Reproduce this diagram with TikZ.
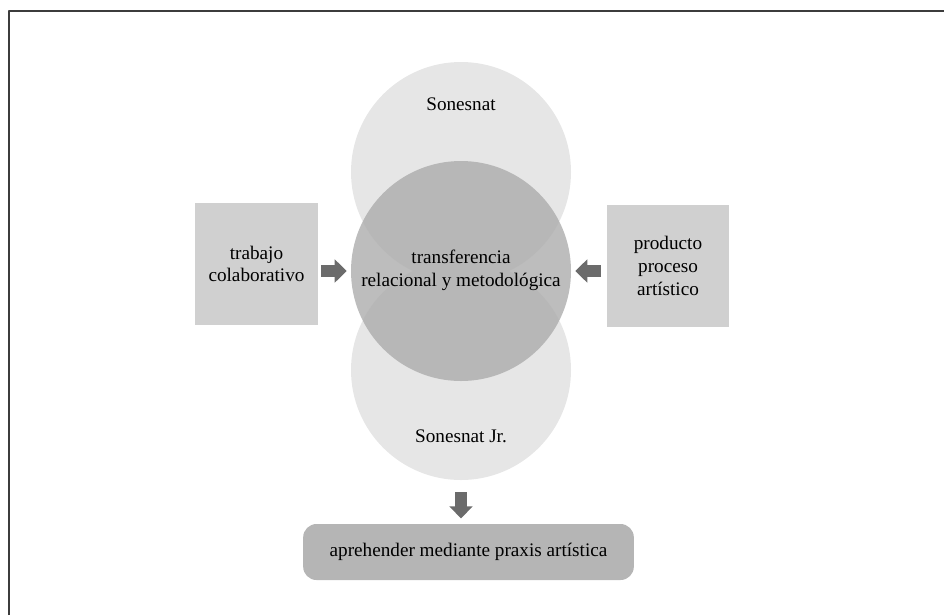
\documentclass[tikz,border=0pt]{standalone}
\usepackage{fontspec}
\setmainfont{Liberation Serif}
\usetikzlibrary{arrows.meta}
\definecolor{circclaro}{HTML}{E6E6E6}
\definecolor{circmedio}{HTML}{ACACAC}
\definecolor{cajagris}{HTML}{D0D0D0}
\definecolor{cajaoscura}{HTML}{B5B5B5}
\definecolor{flechagris}{HTML}{6B6B6B}
\definecolor{marco}{HTML}{3C3C3C}
\begin{document}
\begin{tikzpicture}[x=0.75pt, y=-0.75pt, font=\fontsize{14.4}{17}\selectfont, line join=round,
		circulo/.style={circle, minimum size=165pt, inner sep=0pt},
		caja/.style={fill=cajagris, minimum width=92pt, minimum height=91.5pt, align=center, inner sep=0pt},
		flecha/.style={draw=flechagris, line width=9pt, -{Triangle[width=17pt,length=9pt]}}]
		\useasboundingbox (0,0) rectangle (944,615);
		\draw[marco, line width=1.2pt] (9,615) -- (9,11) -- (944,11);
		% circulos
		\node[circulo, fill=circclaro] (son) at (461,172) {};
		\node[circulo, fill=circclaro] (jr) at (461,370) {};
		\node[circulo, fill=circmedio, fill opacity=0.8] (tra) at (461,271) {};
		\node (tson) at (461,104) {Sonesnat};
		\node (tjr) at (461,436) {Sonesnat Jr.};
		\node[align=center] (ttra) at (461,270) {transferencia\\relacional y metodológica};
		% cajas
		\node[caja] (trab) at (256.5,264) {trabajo\\colaborativo};
		\node[caja] (prod) at (668,266) {producto\\proceso\\artístico};
		\node[fill=cajaoscura, rounded corners=10pt, minimum width=248pt, minimum height=42pt] (apr) at (468.5,552) {aprehender mediante praxis artística};
		% flechas
		\draw[flecha, shorten <=2pt, shorten >=3pt] (trab.east |- tra) -- (tra.west);
		\draw[flecha, shorten <=4pt, shorten >=3pt] (prod.west |- tra) -- (tra.east);
		\draw[flecha, shorten <=9pt, shorten >=4pt] (jr.south) -- (jr.south |- apr.north);
\end{tikzpicture}
\end{document}
